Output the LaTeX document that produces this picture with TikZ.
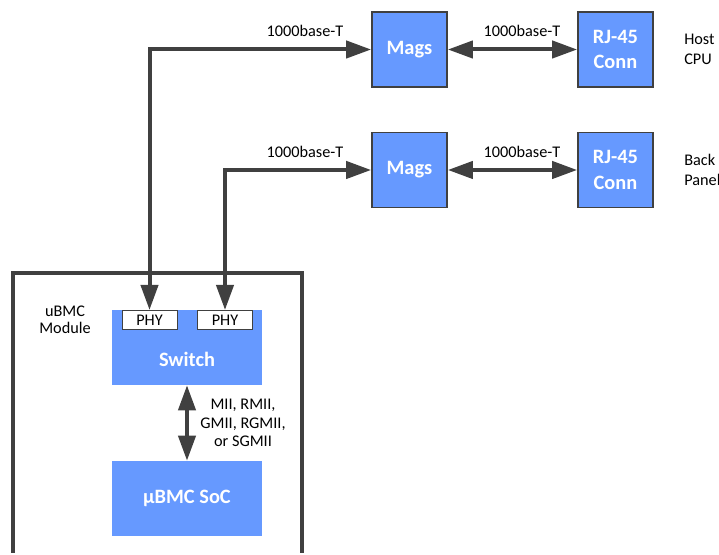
\documentclass[tikz,border=0pt]{standalone}
\usepackage{fontspec}
\setmainfont{Carlito}
\usetikzlibrary{arrows.meta}

\definecolor{blockblue}{HTML}{6699FF}
\definecolor{linegray}{HTML}{404040}

\tikzset{
  bigtip/.tip={Triangle[length=18.75pt,width=12.75pt]},
  blockbox/.style={draw=linegray, line width=1.2pt, fill=blockblue, text=white,
    font=\bfseries\fontsize{15.3}{19}\selectfont, align=center,
    minimum width=56.25pt, minimum height=56.25pt, inner sep=0pt},
  chipbox/.style={fill=blockblue, minimum width=112.5pt, minimum height=56.25pt, inner sep=0pt},
  phybox/.style={draw=linegray, line width=0.6pt, fill=white, font=\fontsize{12.2}{14}\selectfont,
    minimum width=41.25pt, minimum height=14.25pt, inner sep=0pt},
  linktext/.style={font=\fontsize{12.2}{14}\selectfont, align=center},
  duallink/.style={draw=linegray, line width=3pt, bigtip-bigtip}
}

\begin{document}
\begin{tikzpicture}[x=0.75pt,y=-0.75pt]
\useasboundingbox (0,0) rectangle (719,555);

% module outline
\draw[linegray, line width=3pt] (13,553) -- (13,273) -- (302,273) -- (302,553);
\node[linktext, font=\fontsize{12.2}{12.8}\selectfont] (module) at (65,320) {uBMC\\Module};

% switch and soc
\node[chipbox] (switch) at (187,347.5) {};
\node[text=white, font=\bfseries\fontsize{15.3}{17}\selectfont] (switchtext) at (187,359) {Switch};
\node[phybox, anchor=north] (phya) at (149.5,310) {PHY};
\node[phybox, anchor=north] (phyb) at (225,310) {PHY};
\node[chipbox, text=white, font=\bfseries\fontsize{15.3}{17}\selectfont] (soc) at (187,498.5) {µBMC SoC};

% magnetics and connectors
\node[blockbox] (magsa) at (409.5,49.5) {Mags};
\node[blockbox] (rja) at (615.5,49.5) {RJ-45\\Conn};
\node[blockbox] (magsb) at (409.5,170) {Mags};
\node[blockbox] (rjb) at (615.5,170) {RJ-45\\Conn};
\node[linktext, font=\fontsize{12.2}{15}\selectfont, align=left, anchor=west, inner sep=0pt] (host) at (684,49.5) {Host\\CPU};
\node[linktext, font=\fontsize{12.2}{15}\selectfont, align=left, anchor=west, inner sep=0pt] (back) at (684,170) {Back\\Panel};

% links
\coordinate (benda) at (phya.north |- magsa.west);
\coordinate (bendb) at (phyb.north |- magsb.west);
\draw[duallink] (magsa.west) -- (benda) -- (phya.north);
\draw[duallink] (magsb.west) -- (bendb) -- (phyb.north);
\draw[duallink] (magsa.east) -- (rja.west);
\draw[duallink] (magsb.east) -- (rjb.west);
\draw[duallink] (switch.south) -- (soc.north);

% link labels
\node[linktext] (lbla) at (305,31) {1000base-T};
\node[linktext] (lblb) at (305,152) {1000base-T};
\node[linktext] (lblc) at (522,31) {1000base-T};
\node[linktext] (lbld) at (522,152) {1000base-T};
\node[linktext, font=\fontsize{12.2}{13.9}\selectfont] (lble) at (243,423) {MII, RMII,\\GMII, RGMII,\\or SGMII};
\end{tikzpicture}
\end{document}
